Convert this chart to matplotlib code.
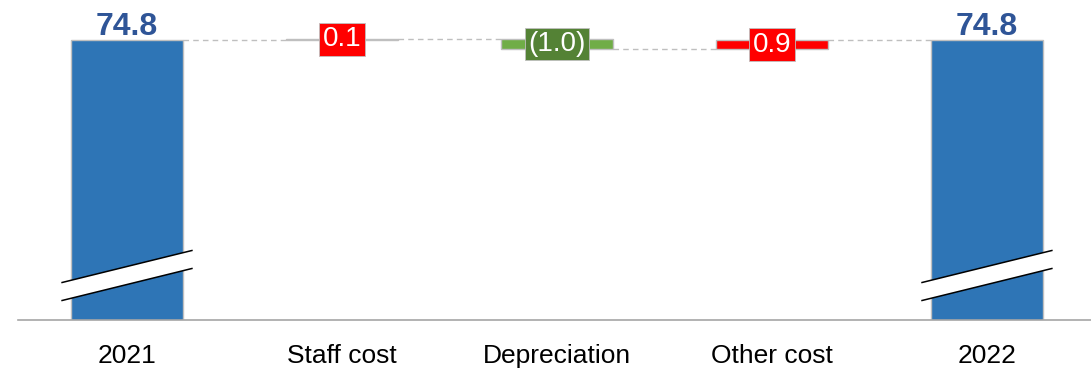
"""
Cost bridge 2021 -> 2022 (waterfall with broken axis)
"""
import matplotlib
matplotlib.use("Agg")
import matplotlib.pyplot as plt
from matplotlib.patches import Polygon

plt.rcParams['font.family'] = ['Liberation Sans', 'DejaVu Sans']

# data
categories = ["2021", "Staff cost", "Depreciation", "Other cost", "2022"]
start_total = 74.8
deltas = [0.1, -1.0, 0.9]
end_total = 74.8
delta_labels = ["0.1", "(1.0)", "0.9"]

# colours
blue = "#2E75B6"
total_text = "#2F5597"
red = "#FF0000"
green = "#70AD47"
dark_green = "#548235"
edge = "#BFBFBF"

fig = plt.figure(figsize=(10.91, 3.71), dpi=100)
ax = fig.add_axes([18 / 1091, 51 / 371, 1073 / 1091, 320 / 371])

bar_w = 0.52
y_bottom = start_total - 28.0
ax.set_xlim(-0.507, 4.484)
ax.set_ylim(y_bottom, y_bottom + 32.0)

# total bars, drawn from zero and cut by the axis
for i, val in [(0, start_total), (4, end_total)]:
    ax.bar(i, val, width=bar_w, color=blue, edgecolor=edge, linewidth=1,
           zorder=2)
    ax.text(i, val + 0.5, f"{val:.1f}", ha="center", va="baseline",
            fontsize=23, fontweight="bold", color=total_text)

# floating delta bars
level = start_total
prev_right = 0 + bar_w / 2
for k, d in enumerate(deltas):
    i = k + 1
    low = min(level, level + d)
    if d > 0:
        fill, box = red, red
    else:
        fill, box = green, dark_green
    ax.bar(i, abs(d), bottom=low, width=bar_w, color=fill,
           edgecolor=edge, linewidth=1, zorder=2)
    # dashed connector from previous bar
    ax.plot([prev_right, i - bar_w / 2], [level, level], ls=(0, (4, 3)),
            color=edge, lw=1, zorder=1)
    ax.text(i, low + abs(d) / 2, delta_labels[k], ha="center", va="center",
            fontsize=20, color="white", zorder=4,
            bbox=dict(boxstyle="square,pad=0.12", fc=box, ec=edge, lw=0.6))
    level += d
    prev_right = i + bar_w / 2

# connector into the closing bar
ax.plot([prev_right, 4 - bar_w / 2], [level, level], ls=(0, (4, 3)),
        color=edge, lw=1, zorder=1)

# axis break marks on the total bars
for i in [0, 4]:
    x0 = i - bar_w / 2 - 0.042
    x1 = i + bar_w / 2 + 0.042
    ylo = y_bottom + 1.95
    rise = 3.2
    gap = 1.8
    band = Polygon([(x0, ylo), (x1, ylo + rise), (x1, ylo + rise + gap),
                    (x0, ylo + gap)], closed=True, fc="white", ec="none",
                   zorder=3)
    ax.add_patch(band)
    ax.plot([x0, x1], [ylo, ylo + rise], color="black", lw=1.1, zorder=3)
    ax.plot([x0, x1], [ylo + gap, ylo + rise + gap], color="black", lw=1.1,
            zorder=3)

ax.set_xticks(range(len(categories)))
ax.set_xticklabels(categories, fontsize=19)
ax.tick_params(axis="x", length=0, pad=17)
ax.set_yticks([])
for side in ["top", "right", "left"]:
    ax.spines[side].set_visible(False)
ax.spines["bottom"].set_color("#A6A6A6")
ax.spines["bottom"].set_linewidth(1.2)
ax.spines["bottom"].set_zorder(5)

fig.savefig("out.png", dpi=100)
